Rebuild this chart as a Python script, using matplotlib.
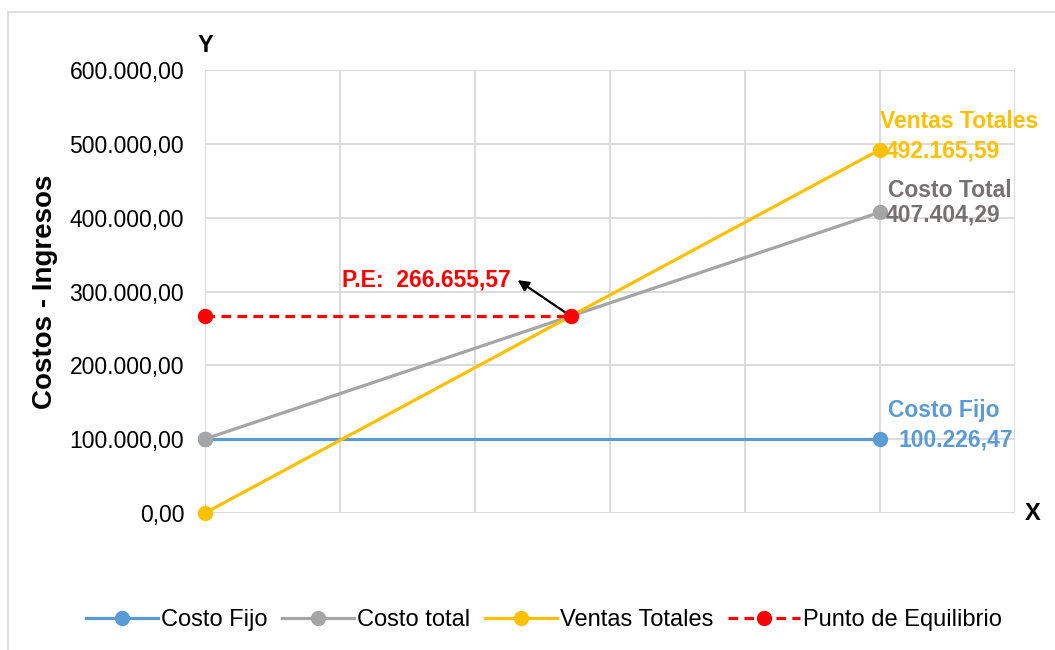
import numpy as np
import matplotlib
matplotlib.use('Agg')
import matplotlib.pyplot as plt
import matplotlib.ticker as mticker
from matplotlib.patches import Rectangle

plt.rcParams['font.family'] = ['Liberation Sans', 'DejaVu Sans']

# data
x_vals = [0, 5]
costo_fijo = [100226.47, 100226.47]
costo_total = [100226.47, 407404.29]
ventas = [0.0, 492165.59]
pe_valor = 266655.57
pe_x = pe_valor / ventas[1] * x_vals[1]   # where ventas crosses costo total
pe_xs = [0, pe_x]
pe_ys = [pe_valor, pe_valor]
y_ticks = [0, 100000, 200000, 300000, 400000, 500000, 600000]

c_fijo = '#5B9BD5'
c_total = '#A5A5A5'
c_ventas = '#FFC000'
c_pe = '#FF0000'
c_gris_txt = '#767171'
fs = 16.5


def fmt_es(v, pos=None):
    s = '{:,.2f}'.format(v)
    return s.replace(',', '#').replace('.', ',').replace('#', '.')


fig = plt.figure(figsize=(10.55, 6.5), dpi=100)
ax = fig.add_axes([205/1055, 1-513/650, (1015-205)/1055, (513-70)/650])

kw = dict(lw=2.3, marker='o', ms=10, clip_on=False)
ax.plot(x_vals, costo_fijo, color=c_fijo, label='Costo Fijo', zorder=3, **kw)
ax.plot(x_vals, costo_total, color=c_total, label='Costo total', zorder=3, **kw)
ax.plot(x_vals, ventas, color=c_ventas, label='Ventas Totales', zorder=4, **kw)
ax.plot(pe_xs, pe_ys, color=c_pe, ls=(0, (3, 2)), label='Punto de Equilibrio', zorder=5, **kw)

ax.set_xlim(0, 6)
ax.set_ylim(0, 600000)
ax.set_yticks(y_ticks)
ax.yaxis.set_major_formatter(mticker.FuncFormatter(fmt_es))
ax.set_xticks(range(0, 7))
ax.set_xticklabels([])
ax.tick_params(axis='both', length=0, labelsize=fs, pad=15)
ax.grid(True, color='#D9D9D9', lw=1.3)
ax.set_axisbelow(True)
for s in ax.spines.values():
    s.set_visible(False)

ax.set_ylabel('Costos - Ingresos', fontsize=20, fontweight='bold', labelpad=8)

# data labels at the last points
def etiqueta(txt, y, dx, dy, color):
    ax.annotate(txt, (x_vals[1], y), xytext=(dx, dy), textcoords='offset pixels',
                color=color, fontsize=fs, fontweight='bold', va='center', ha='left')

etiqueta('Ventas Totales', ventas[1], 0, 28, c_ventas)
etiqueta(fmt_es(ventas[1]), ventas[1], 6, -1, c_ventas)
etiqueta('Costo Total', costo_total[1], 8, 22, c_gris_txt)
etiqueta(fmt_es(costo_total[1]), costo_total[1], 6, -3, c_gris_txt)
etiqueta('Costo Fijo', costo_fijo[1], 8, 28, c_fijo)
etiqueta(fmt_es(costo_fijo[1]), costo_fijo[1], 18, -1, c_fijo)

# break-even callout
ax.annotate('', xy=(pe_x, pe_valor), xytext=(-53, 36), textcoords='offset pixels',
            arrowprops=dict(arrowstyle='<|-', color='black', lw=1.6, mutation_scale=16,
                            shrinkA=0, shrinkB=4))
ax.annotate('P.E:  ' + fmt_es(pe_valor), (pe_x, pe_valor), xytext=(-60, 36), textcoords='offset pixels',
            color=c_pe, fontsize=fs, fontweight='bold', va='center', ha='right')

# axis letters
fig.text(205/1055, 1-45/650, 'Y', fontsize=17, fontweight='bold', ha='center', va='center')
fig.text(1033/1055, 1-513/650, 'X', fontsize=17, fontweight='bold', ha='center', va='center')

fig.legend(loc='center', bbox_to_anchor=(544/1055, 1-620/650), ncol=4, frameon=False,
           fontsize=17, handlelength=3.05, handletextpad=0.15, columnspacing=0.6)

fig.patches.append(Rectangle((8/1055, -0.05), 1.05, 1.05-12/650, transform=fig.transFigure,
                             fill=False, edgecolor='#D9D9D9', lw=1.2))

fig.savefig('out.png', dpi=100)
